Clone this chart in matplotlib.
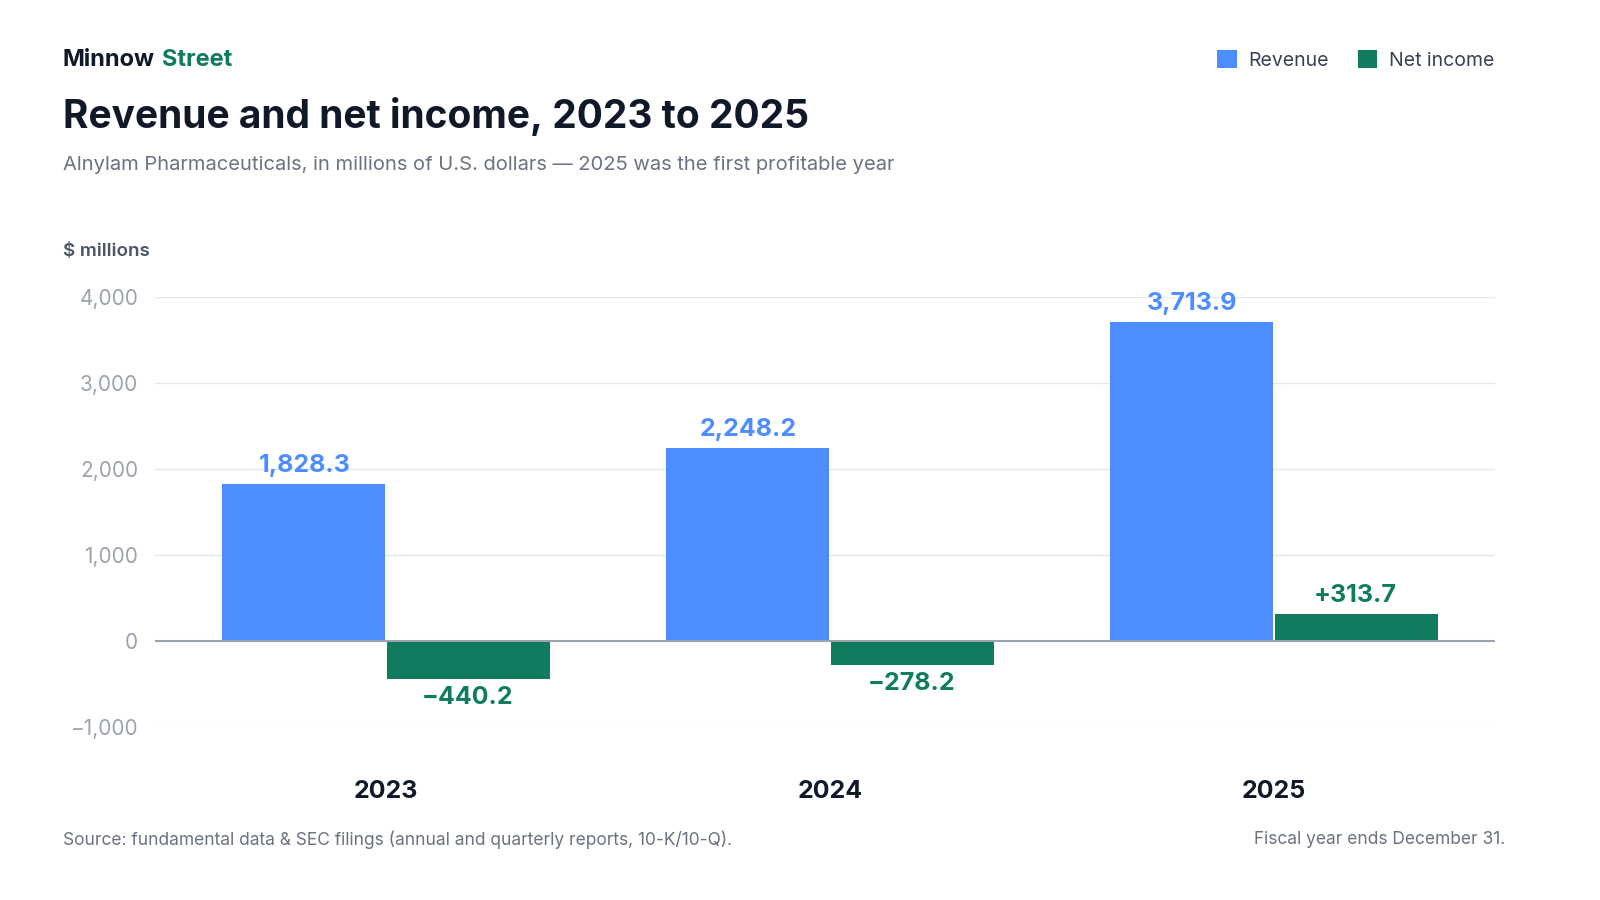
import numpy as np
import matplotlib
matplotlib.use("Agg")
import matplotlib.pyplot as plt

plt.rcParams['font.family'] = ['Inter', 'DejaVu Sans']

years = ["2023", "2024", "2025"]
revenue = [1828.3, 2248.2, 3713.9]
net_income = [-440.2, -278.2, 313.7]
yticks = [-1000, 0, 1000, 2000, 3000, 4000]

BLUE = "#4c8dff"
GREEN = "#0f7b5f"
DARK = "#111827"
GRAY = "#6b7280"
TICK = "#9ca3af"

fig = plt.figure(figsize=(16, 9), dpi=100)
ax = fig.add_axes([155/1600, 1-727/900, 1340/1600, 430/900])

x = np.arange(len(years))
w = 0.367
ax.bar(x - w/2 - 0.002, revenue, w, color=BLUE, label="Revenue", zorder=3)
ax.bar(x + w/2 + 0.002, net_income, w, color=GREEN, label="Net income", zorder=3)

for i in range(len(years)):
    ax.text(x[i] - w/2, revenue[i] + 80, f"{revenue[i]:,.1f}", ha="center", va="bottom",
            color=BLUE, fontsize=18, fontweight="bold")
    v = net_income[i]
    if v < 0:
        ax.text(x[i] + w/2, v - 80, f"\u2212{abs(v):,.1f}", ha="center", va="top",
                color=GREEN, fontsize=18, fontweight="bold")
    else:
        ax.text(x[i] + w/2, v + 80, f"+{v:,.1f}", ha="center", va="bottom",
                color=GREEN, fontsize=18, fontweight="bold")

ax.set_xlim(-0.52, 2.498)
ax.set_ylim(-1000, 4000)
ax.set_yticks(yticks)
ax.set_yticklabels([f"{t:,}".replace("-", "\u2212") for t in yticks], color=TICK, fontsize=15)
ax.set_xticks(x)
ax.set_xticklabels(years, fontsize=18, fontweight="bold", color=DARK)
ax.tick_params(axis="x", length=0, pad=38)
ax.tick_params(axis="y", length=0, pad=12)
ax.grid(axis="y", color="#e5e7eb", linewidth=1, zorder=0)
ax.axhline(0, color="#9ca3af", linewidth=1.5, zorder=4)
for s in ax.spines.values():
    s.set_visible(False)

fig.text(63/1600, 1-60/900, "Minnow", fontsize=17, fontweight="bold", color=DARK, va="center")
fig.text(162/1600, 1-60/900, "Street", fontsize=17, fontweight="bold", color=GREEN, va="center")
fig.text(63/1600, 1-116/900, "Revenue and net income, 2023 to 2025", fontsize=28,
         fontweight="bold", color=DARK, va="center")
fig.text(63/1600, 1-165/900,
         "Alnylam Pharmaceuticals, in millions of U.S. dollars \u2014 2025 was the first profitable year",
         fontsize=14.5, color=GRAY, va="center")
fig.text(63/1600, 1-252/900, "$ millions", fontsize=13.5, color="#4b5563", fontweight="semibold", va="center")
fig.text(63/1600, 1-840/900,
         "Source: fundamental data & SEC filings (annual and quarterly reports, 10-K/10-Q).",
         fontsize=12.5, color=GRAY, va="center")
fig.text(1505/1600, 1-840/900, "Fiscal year ends December 31.", fontsize=12.5,
         color=GRAY, va="center", ha="right")

leg = fig.legend(loc="center right", bbox_to_anchor=(1512/1600, 1-60/900), ncol=2, frameon=False,
                 fontsize=14, handlelength=1.0, handleheight=1.0, columnspacing=1.5, handletextpad=0.6)
for t in leg.get_texts():
    t.set_color("#374151")

fig.savefig("out.png", dpi=100, facecolor="white")
